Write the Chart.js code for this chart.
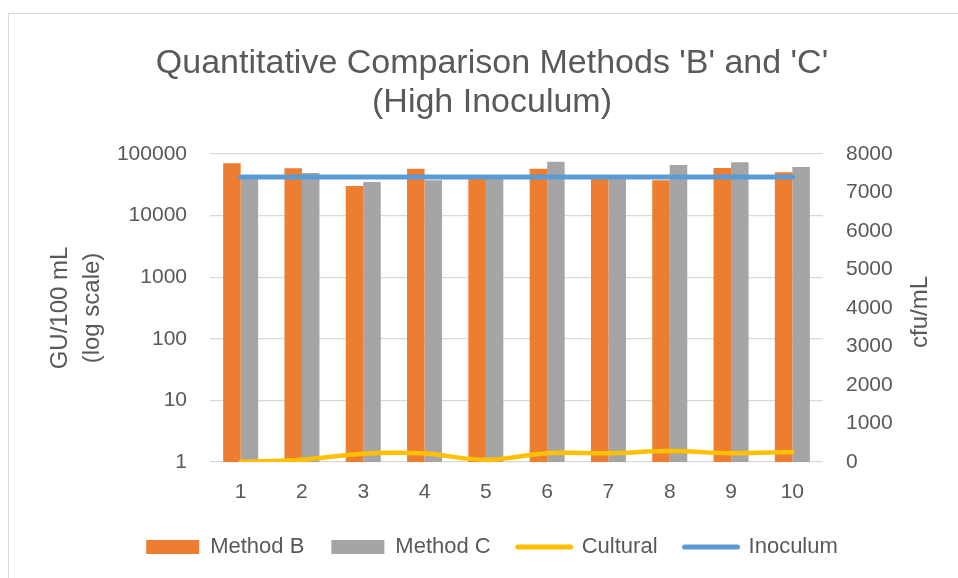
<!DOCTYPE html>
<html lang="en">
  <head>
    <meta charset="UTF-8" />
    <title>Quantitative Comparison Methods 'B' and 'C'</title>
    <script src="https://cdn.jsdelivr.net/npm/chart.js"></script>
    <style>
      html,
      body {
        margin: 0;
        padding: 0;
        background: #fff;
        overflow: hidden;
        width: 958px;
        height: 578px;
      }

      .chart-box {
        position: absolute;
        left: 8px;
        top: 13px;
        width: 966px;
        height: 564px;
        border: 1px solid #d9d9d9;
      }
    </style>
  </head>

  <body>
    <div class="chart-box">
      <canvas id="chart"></canvas>
    </div>

    <script>
      // Values
      const samples = ["1", "2", "3", "4", "5", "6", "7", "8", "9", "10"];
      const methodB = [70600, 58600, 30300, 57700, 42000, 57700, 42000, 37400, 59300, 50400];
      const methodC = [44000, 49200, 35100, 37400, 43000, 75000, 44000, 66300, 73300, 61700];
      const cultural = [5, 60, 215, 220, 57, 230, 230, 283, 230, 257];
      const inoculum = [7400, 7400, 7400, 7400, 7400, 7400, 7400, 7400, 7400, 7400];
      const leftTicks = [1, 10, 100, 1000, 10000, 100000];

      const textColor = "#595959";
      Chart.defaults.font.family = "'Liberation Sans', Arial, sans-serif";
      Chart.defaults.color = textColor;

      // right axis title reads bottom-to-top, so draw it here
      const rightTitle = {
        id: "rightTitle",
        afterDraw(chart) {
          const { ctx, chartArea } = chart;
          ctx.save();
          ctx.translate(chart.scales.y1.right - 55, (chartArea.top + chartArea.bottom) / 2 + 4);
          ctx.rotate(-Math.PI / 2);
          ctx.font = "24px 'Liberation Sans', Arial, sans-serif";
          ctx.fillStyle = textColor;
          ctx.textAlign = "center";
          ctx.textBaseline = "middle";
          ctx.fillText("cfu/mL", 0, 0);
          ctx.restore();
        },
      };

      new Chart(document.getElementById("chart"), {
        type: "bar",
        data: {
          labels: samples,
          datasets: [
            {
              label: "Method B",
              data: methodB,
              backgroundColor: "#ED7D31",
              borderWidth: 0,
              pointStyle: "rect",
              yAxisID: "y",
              order: 1,
            },
            {
              label: "Method C",
              data: methodC,
              backgroundColor: "#A5A5A5",
              borderWidth: 0,
              pointStyle: "rect",
              yAxisID: "y",
              order: 1,
            },
            {
              type: "line",
              label: "Cultural",
              data: cultural,
              borderColor: "#FFC000",
              backgroundColor: "#FFC000",
              borderWidth: 4.5,
              borderCapStyle: "round",
              tension: 0.35,
              pointRadius: 0,
              pointBorderWidth: 5,
              pointStyle: "line",
              yAxisID: "y1",
              order: 0,
            },
            {
              type: "line",
              label: "Inoculum",
              data: inoculum,
              borderColor: "#5B9BD5",
              backgroundColor: "#5B9BD5",
              borderWidth: 5,
              borderCapStyle: "round",
              pointRadius: 0,
              pointBorderWidth: 5,
              pointStyle: "line",
              yAxisID: "y1",
              order: 0,
            },
          ],
        },
        options: {
          responsive: true,
          maintainAspectRatio: false,
          animation: false,
          layout: { padding: { top: 0, bottom: 10, left: 0, right: 0 } },
          datasets: {
            bar: { categoryPercentage: 0.571, barPercentage: 1.0 },
          },
          plugins: {
            tooltip: { enabled: false },
            title: {
              display: true,
              text: ["Quantitative Comparison Methods 'B' and 'C'", "(High Inoculum)"],
              color: textColor,
              font: { size: 34, weight: "normal", lineHeight: 39 / 34 },
              padding: { top: 30, bottom: 32 },
            },
            legend: {
              position: "bottom",
              labels: {
                usePointStyle: true,
                pointStyleWidth: 53,
                boxHeight: 14,
                padding: 27,
                color: textColor,
                font: { size: 22 },
                sort: (a, b) => a.datasetIndex - b.datasetIndex,
                generateLabels: (chart) =>
                  Chart.defaults.plugins.legend.labels.generateLabels(chart).map((item) => {
                    if (item.pointStyle === "line") item.lineCap = "round";
                    return item;
                  }),
              },
            },
          },
          scales: {
            x: {
              grid: { display: false, drawTicks: false },
              border: { display: false },
              ticks: { font: { size: 21 }, padding: 18, color: textColor },
              afterFit: (s) => {
                s.height = 47;
              },
            },
            y: {
              type: "logarithmic",
              position: "left",
              min: 1,
              max: 100000,
              grid: { color: "#d9d9d9", lineWidth: 1.2, drawTicks: false },
              border: { display: false },
              afterBuildTicks: (s) => {
                s.ticks = leftTicks.map((v) => ({ value: v }));
              },
              ticks: {
                font: { size: 21 },
                padding: 23,
                color: textColor,
                callback: (v) => String(v),
              },
              title: {
                display: true,
                text: ["GU/100 mL", "(log scale)"],
                color: textColor,
                font: { size: 24, lineHeight: 32 / 24 },
                padding: { top: 35, bottom: 0 },
              },
              afterFit: (s) => {
                s.width = 201;
              },
            },
            y1: {
              position: "right",
              min: 0,
              max: 8000,
              grid: { display: false, drawTicks: false },
              border: { display: false },
              ticks: {
                stepSize: 1000,
                font: { size: 21 },
                padding: 23,
                color: textColor,
                callback: (v) => String(v),
              },
              afterFit: (s) => {
                s.width = 152;
              },
            },
          },
        },
        plugins: [rightTitle],
      });
    </script>
  </body>
</html>
